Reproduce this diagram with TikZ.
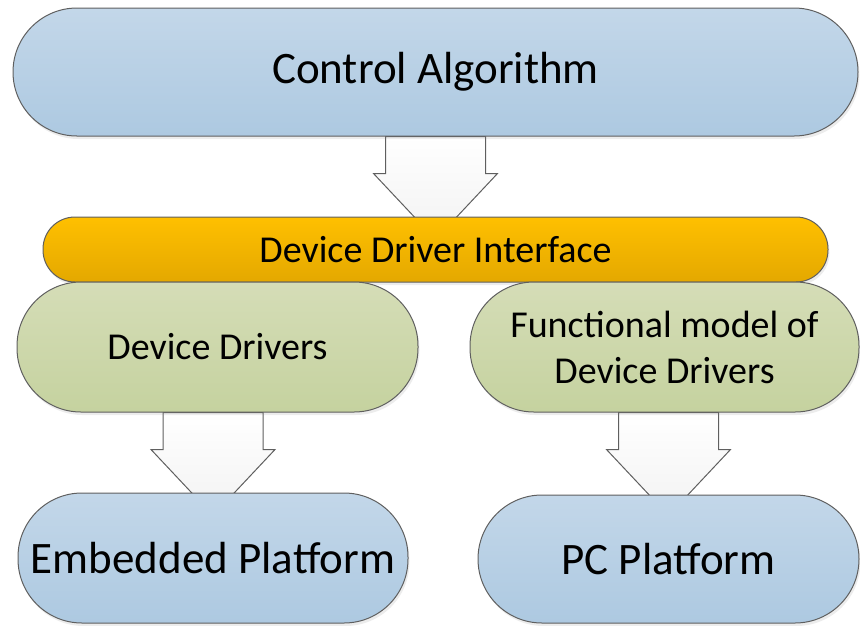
\documentclass[tikz,border=0pt]{standalone}
\usepackage{fontspec}
\setmainfont{Carlito}
\usetikzlibrary{calc,shadows,backgrounds}

\definecolor{bluetop}{HTML}{C3D7E9}
\definecolor{bluebot}{HTML}{ADC9E1}
\definecolor{orgtop}{HTML}{FFC000}
\definecolor{orgbot}{HTML}{E4A800}
\definecolor{grntop}{HTML}{D5DDB7}
\definecolor{grnbot}{HTML}{C5D29F}
\definecolor{edgegray}{HTML}{5F5F5F}

\tikzset{
	layer/.style={draw=edgegray,line width=1pt,inner sep=0pt,align=center,
		drop shadow={opacity=0.15,shadow xshift=1.5pt,shadow yshift=-3pt}},
	platform/.style={layer,top color=bluetop,bottom color=bluebot,
		rounded corners=64pt,minimum height=128pt,font=\fontsize{45}{54}\selectfont},
	iface/.style={layer,top color=orgtop,bottom color=orgbot,
		rounded corners=32pt,minimum height=65pt,font=\fontsize{38}{46}\selectfont},
	driver/.style={layer,top color=grntop,bottom color=grnbot,
		rounded corners=64pt,minimum height=130pt,font=\fontsize{38}{46}\selectfont},
	flow/.style={draw=edgegray,line width=1pt,top color=white,bottom color=gray!10}
}

% block arrow from the bottom of #1 into the top of #2
\newcommand{\flowarrow}[2]{%
	\draw[flow] ($(#1.south -| #2.north)+(-50,0)$) -- ++(0,-37) -- ++(-12,0) -- ++(62,-66)
		-- ++(62,66) -- ++(-12,0) -- ++(0,37) -- cycle;}

\begin{document}
\begin{tikzpicture}[x=1pt,y=1pt,line join=round]
	\useasboundingbox (0,0) rectangle (860,-625);
	
	\node[platform,minimum width=845pt] (ctrl) at (435.5,-72) {Control Algorithm};
	\node[iface,minimum width=785pt] (ddi) at (435.5,-249.5) {Device Driver Interface};
	\node[driver,minimum width=401pt] (dd) at (217.5,-347) {Device Drivers};
	\node[driver,minimum width=389pt] (fm) at (664.5,-347) {Functional model of\\Device Drivers};
	\node[platform,minimum width=390pt,minimum height=130pt] (emb) at (213,-558) {Embedded Platform};
	\node[platform,minimum width=381pt] (pc) at (668.5,-559) {PC Platform};
	
	\begin{pgfonlayer}{background}
		\flowarrow{ctrl}{ddi}
		\flowarrow{dd}{emb}
		\flowarrow{fm}{pc}
	\end{pgfonlayer}
\end{tikzpicture}
\end{document}
